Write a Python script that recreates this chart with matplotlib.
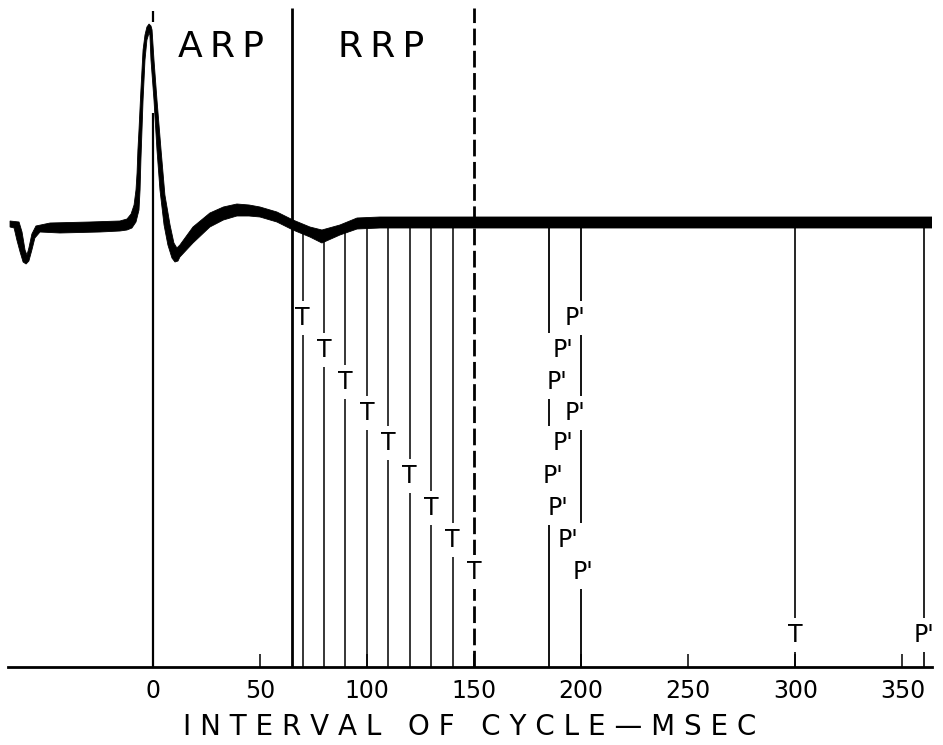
import matplotlib
matplotlib.use('Agg')
import matplotlib.pyplot as plt
import numpy as np

plt.rcParams['font.family'] = ['DejaVu Sans']

# trace outline: time (msec) and height above the axis (plot units)
upper_t = [-66.6, -62.4, -61.0, -59.6, -58.7, -57.8, -56.4, -54.5, -47.9, -29.3,
           -15.3, -12.0, -10.1, -8.7, -7.8, -7.3, -6.9, -6.4, -5.5, -4.5,
           -3.6, -2.7, -1.7, -0.8, -0.3, 0.6, 2.0, 3.9, 5.7, 8.1,
           9.9, 11.3, 12.7, 18.8, 26.7, 33.0, 39.3, 45.0, 50.1, 58.0, 65.5, 73.4,
           79.0, 87.4, 95.4, 106.1, 364.3]
upper_h = [446, 445, 435, 417, 412, 419, 433, 441, 444, 445,
           446, 448, 453, 462, 477, 494, 517, 537, 577, 617,
           632, 640, 643, 641, 637, 607, 567, 517, 472, 442,
           424, 419, 422, 440, 454, 460, 463, 462, 460, 455, 447, 440,
           437, 442, 449, 450, 450]
lower_t = [-66.6, -64.7, -63.4, -61.9, -60.5, -59.1, -57.8, -56.4, -55.0, -52.6,
           -43.3, -24.6, -15.3, -12.0, -9.7, -7.8, -6.4, -5.9, -5.5, -5.0,
           -4.5, -3.6, -2.7, -1.7, -1.3, -0.8, 0.6, 2.0, 3.4, 5.3,
           7.1, 9.0, 10.4, 11.8, 12.7, 18.8, 26.7, 33.0, 39.3, 45.0, 50.1, 58.0,
           65.5, 73.4, 79.0, 87.4, 95.4, 106.1, 364.3]
lower_h = [440, 439, 427, 415, 405, 403, 406, 417, 429, 435,
           434, 435, 436, 437, 439, 445, 457, 477, 507, 537,
           567, 607, 627, 634, 632, 607, 567, 517, 477, 442,
           422, 409, 405, 406, 410, 424, 440, 447, 451, 451, 450, 445,
           437, 430, 424, 432, 438, 439, 439]

arp_end = 65
rrp_end = 150
stim_t = [70, 80, 90, 100, 110, 120, 130, 140, 150]
resp_t = [197, 191.5, 188.7, 197, 191.5, 186.9, 189.2, 193.8, 201]
row_h = [349, 317, 285, 254, 224, 191, 159, 127, 95]
resp_lines = [185, 200]
late_stim = 300
late_resp = 360
late_h = 32
ticks = [0, 50, 100, 150, 200, 250, 300, 350]

fig = plt.figure(figsize=(9.43, 7.45), dpi=100)
ax = fig.add_axes([8/943, 78/745, 924/943, 667/745])
ax.set_xlim(-67.55, 363.8)
ax.set_ylim(0, 667)

# the recorded trace
ax.fill(np.r_[upper_t, lower_t[::-1]], np.r_[upper_h, lower_h[::-1]],
        color='black', lw=0.6, zorder=5)


def top(t):
    return np.interp(t, lower_t, lower_h) + 4


# stimulus / response markers
ax.vlines(0, 0, 554, color='black', lw=1.6, zorder=2)
ax.vlines(0, 645, 656, color='black', lw=1.6, zorder=2)
ax.vlines(arp_end, 0, 659, color='black', lw=2.0, zorder=6)
ax.plot([rrp_end, rrp_end], [0, 659], color='black', lw=2.0,
        ls=(0, (6, 2)), zorder=2)
ax.vlines(stim_t[:-1], 0, top(stim_t[:-1]), color='black', lw=1.1, zorder=2)
ax.vlines(resp_lines, 0, top(resp_lines), color='black', lw=1.3, zorder=2)
ax.vlines([late_stim, late_resp], 0, top([late_stim, late_resp]),
          color='black', lw=1.2, zorder=2)

box = dict(boxstyle='square,pad=0.2', fc='white', ec='none')
for t, h in zip(stim_t, row_h):
    ax.text(t, h, 'T', ha='center', va='center', fontsize=17, bbox=box, zorder=4)
for t, h in zip(resp_t, row_h):
    ax.text(t, h, "P'", ha='center', va='center', fontsize=17, bbox=box, zorder=4)
ax.text(late_stim, late_h, 'T', ha='center', va='center', fontsize=17, bbox=box, zorder=4)
ax.text(late_resp, late_h, "P'", ha='center', va='center', fontsize=17, bbox=box, zorder=4)

ax.text(31.9, 620, 'A\u2009R\u2009P', ha='center', va='center', fontsize=26)
ax.text(106.6, 620, 'R\u2009R\u2009P', ha='center', va='center', fontsize=26)

for s in ['left', 'top', 'right']:
    ax.spines[s].set_visible(False)
ax.spines['bottom'].set_linewidth(2.0)
ax.set_yticks([])
ax.set_xticks(ticks)
ax.tick_params(axis='x', direction='in', length=9.5, width=1.1, pad=9, labelsize=17)
ax.set_xlabel('I N T E R V A L   O F   C Y C L E — M S E C', fontsize=20, labelpad=7)

plt.savefig('out.png', dpi=100)
plt.close()
